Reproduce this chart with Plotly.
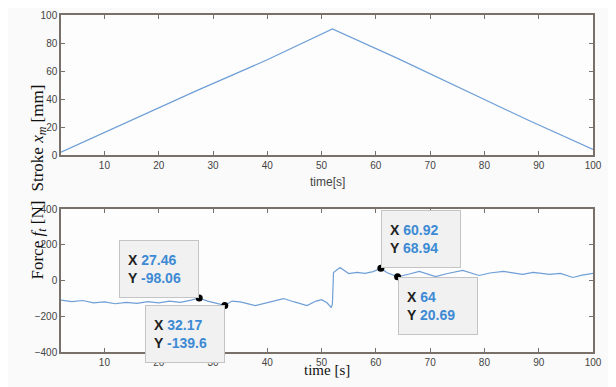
import plotly.graph_objects as go

# ---- data ----
stroke_time = [2, 14, 27, 40, 52, 64, 76, 88, 100]
stroke_mm = [2, 23, 46, 68, 90, 69, 47, 25, 4]

force_time = [2, 4, 6, 8, 10, 12, 14, 16, 18, 20, 22, 24, 26, 27.46, 29, 30.5, 32.17,
              33.5, 35, 37.8, 40, 43, 45, 47.3, 49, 50, 51, 51.8, 52.0, 52.2, 53.4, 55,
              56.5, 58, 59.5, 60.92, 62, 64, 66, 68, 71, 73, 76, 79, 81, 83.5, 87, 89,
              92, 94, 96.3, 98, 100]
force_N = [-110, -118, -112, -125, -120, -130, -122, -128, -118, -125, -115, -122, -110,
           -98.06, -115, -125, -139.6, -115, -120, -140, -125, -101, -120, -140, -115,
           -107, -125, -152, -130, 45, 73, 39, 45, 40, 50, 68.94, 45, 20.69, 35, 51, 22,
           38, 56, 28, 42, 51, 34, 45, 34, 40, 17, 30, 40]

tip_x = [27.46, 32.17, 60.92, 64]
tip_y = [-98.06, -139.6, 68.94, 20.69]
tip_xlabel = ["27.46", "32.17", "60.92", "64"]
tip_ylabel = ["-98.06", "-139.6", "68.94", "20.69"]
tip_xanchor = ["right", "right", "left", "left"]
tip_yanchor = ["bottom", "top", "bottom", "top"]

x_ticks = [10, 20, 30, 40, 50, 60, 70, 80, 90, 100]
stroke_ticks = [0, 20, 40, 60, 80, 100]
force_ticks = [-400, -200, 0, 200, 400]

LINE = "#6f9fd6"
AX = "#7a706a"
TICKFONT = dict(family="Arial", size=10, color="#444444")

# page body adds an 8px offset; lay out in figure pixels = window pixels - 8
OFF = 8
W, H = 616 - OFF, 387 - OFF
L, R, T, B = 61 - OFF, 593 - OFF, 15 - OFF, 352 - OFF
PH = B - T

fig = go.Figure()
fig.add_trace(go.Scatter(x=stroke_time, y=stroke_mm, mode="lines",
                         line=dict(color=LINE, width=1.2), xaxis="x", yaxis="y",
                         showlegend=False, hoverinfo="skip"))
fig.add_trace(go.Scatter(x=force_time, y=force_N, mode="lines",
                         line=dict(color=LINE, width=1.2), xaxis="x2", yaxis="y2",
                         showlegend=False, hoverinfo="skip"))
fig.add_trace(go.Scatter(x=tip_x, y=tip_y, mode="markers",
                         marker=dict(color="black", size=7), xaxis="x2", yaxis="y2",
                         showlegend=False, hoverinfo="skip", cliponaxis=False))

axis_common = dict(showgrid=False, zeroline=False, showline=True, linecolor=AX,
                   linewidth=1.5, mirror="ticks", ticks="inside", ticklen=4,
                   tickcolor=AX, tickwidth=1.2, tickfont=TICKFONT, automargin=False)

fig.update_layout(
    width=W, height=H,
    margin=dict(l=L, r=W - R, t=T, b=H - B, pad=0, autoexpand=False),
    paper_bgcolor="#fafafa", plot_bgcolor="#fdfdfd",
    xaxis=dict(domain=[0, 1], range=[2, 100], tickvals=x_ticks,
               anchor="y", **axis_common),
    yaxis=dict(domain=[1 - (155 - 15) / PH, 1], range=[0, 100], tickvals=stroke_ticks,
               anchor="x", **axis_common),
    xaxis2=dict(domain=[0, 1], range=[2, 100], tickvals=x_ticks,
                anchor="y2", **axis_common),
    yaxis2=dict(domain=[0, (352 - 209) / PH], range=[-400, 400], tickvals=force_ticks,
                anchor="x2", **axis_common),
)

def px(xp, yp):
    # reference-window pixel -> paper coordinate
    return (xp - OFF - L) / (R - L), (B - (yp - OFF)) / PH

anns = []
for txt, xp, yp, fnt in [
    ("time[s]", 327, 182, dict(family="Arial", size=12, color="#444444")),
    ("time [s]", 327, 380, dict(family="Liberation Serif", size=15, color="#111111")),
]:
    xx, yy = px(xp, yp)
    anns.append(dict(text=txt, x=xx, y=yy, xref="paper", yref="paper",
                     showarrow=False, font=fnt))
for txt, xp, yp in [
    ("Stroke <i>x<sub>m</sub></i> [mm]", 25, 83),
    ("Force <i>f<sub>t</sub></i> [N]", 25, 282),
]:
    xx, yy = px(xp, yp)
    anns.append(dict(text=txt, x=xx, y=yy, xref="paper", yref="paper",
                     showarrow=False, textangle=-90,
                     font=dict(family="Liberation Serif", size=17, color="#111111")))

for xv, yv, xl, yl, xa, ya in zip(tip_x, tip_y, tip_xlabel, tip_ylabel, tip_xanchor, tip_yanchor):
    anns.append(dict(
        text=("X <span style='color:#3d8ad4'>%s</span><br>Y <span style='color:#3d8ad4'>%s</span>"
              % (xl, yl)),
        x=xv, y=yv, xref="x2", yref="y2", showarrow=False,
        xanchor=xa, yanchor=ya, align="left", valign="middle",
        width=62, height=40, borderpad=8,
        bgcolor="#f1f1f1", bordercolor="#c4c4c4", borderwidth=1,
        font=dict(family="Arial", size=14, color="#222222", weight="bold")))
fig.update_layout(annotations=anns)

fig.write_html("out.html")
